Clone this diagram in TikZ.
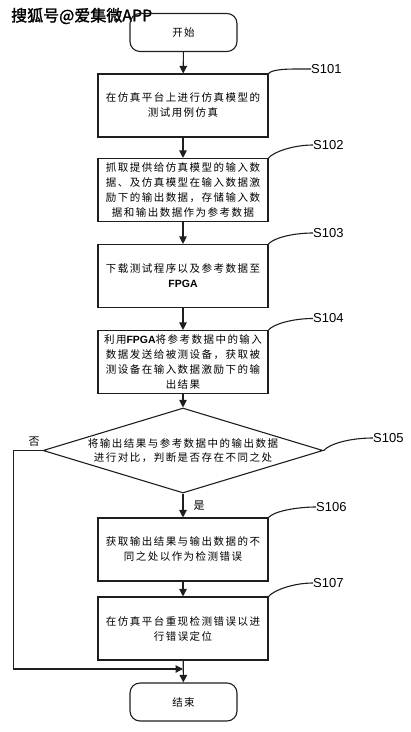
\documentclass[tikz,border=0pt]{standalone}
\usepackage{fontspec}
\setsansfont{Liberation Sans}
\newfontfamily\cjk[LetterSpace=14]{Noto Sans CJK SC}
\newfontfamily\markfont[FakeBold=1.5]{Noto Sans CJK SC}
\usetikzlibrary{arrows.meta, shapes.geometric}
\definecolor{linegray}{HTML}{1E1E1E}
\newcommand{\lat}[1]{{\addfontfeature{LetterSpace=0}\sffamily\bfseries #1}}
\tikzset{
  stepbox/.style={draw=linegray, line width=1.1pt, minimum width=170pt,
                  minimum height=63pt, align=center, inner sep=2pt,
                  font=\cjk\fontsize{10.5}{15}\selectfont},
  termbox/.style={draw=linegray, line width=1.1pt, rounded corners=10pt,
                  minimum width=107pt, minimum height=38pt,
                  font=\cjk\fontsize{10.5}{15}\selectfont},
  decide/.style={diamond, aspect=3.3, draw=linegray, line width=1.1pt,
                 minimum width=280pt, minimum height=85pt, inner sep=0pt,
                 align=center, font=\cjk\fontsize{10.5}{14}\selectfont},
  flow/.style={-{Triangle[length=7.5pt,width=7.5pt]}, line width=1.1pt, draw=linegray},
  lead/.style={line width=1.1pt, draw=linegray},
  tag/.style={anchor=west, inner sep=0pt, font=\sffamily\fontsize{13}{13}\selectfont},
  yesno/.style={inner sep=0pt, font=\cjk\fontsize{11}{11}\selectfont},
}
\begin{document}
\begin{tikzpicture}[x=1pt, y=-1pt]
  \useasboundingbox (0,0) rectangle (411,732);
  \node (mark) [anchor=west, inner sep=0pt, font=\markfont\fontsize{16}{16}\selectfont] at (11,16) {搜狐号@爱集微APP};
  % main column
  \node (start) [termbox] at (183.5,32.5) {开始};
  \node (s101) [stepbox] at (183,105.5) {在仿真平台上进行仿真模型的\\测试用例仿真};
  \node (s102) [stepbox] at (183,190) {抓取提供给仿真模型的输入数\\据、及仿真模型在输入数据激\\励下的输出数据，存储输入数\\据和输出数据作为参考数据};
  \node (s103) [stepbox] at (183,276) {下载测试程序以及参考数据至\\\lat{FPGA}};
  \node (s104) [stepbox] at (183,362) {利用\lat{FPGA}将参考数据中的输入\\数据发送给被测设备，获取被\\测设备在输入数据激励下的输\\出结果};
  \node (dec) [decide] at (183,450.5) {将输出结果与参考数据中的输出数据\\进行对比，判断是否存在不同之处};
  \node (s106) [stepbox] at (183,549.5) {获取输出结果与输出数据的不\\同之处以作为检测错误};
  \node (s107) [stepbox] at (183,628.5) {在仿真平台重现检测错误以进\\行错误定位};
  \node (end) [termbox] at (183.5,702) {结束};
  \coordinate (join) at (183,669);
  % step tags
  \node (t101) [tag] at (311,69) {S101};
  \node (t102) [tag] at (313,145) {S102};
  \node (t103) [tag] at (313,233) {S103};
  \node (t104) [tag] at (313,318.5) {S104};
  \node (t105) [tag] at (373,438) {S105};
  \node (t106) [tag] at (316,507) {S106};
  \node (t107) [tag] at (313,583) {S107};
  \draw[lead] (s101.north east) .. controls +(5,-5) and +(-20,0) .. (t101.west);
  \draw[lead] (s102.north east) .. controls +(5,-6) and +(-20,0) .. (t102.west);
  \draw[lead] (s103.north east) .. controls +(5,-6) and +(-20,0) .. (t103.west);
  \draw[lead] (s104.north east) .. controls +(5,-6) and +(-20,0) .. (t104.west);
  \draw[lead] (dec.east) .. controls +(8,-8) and +(-20,0) .. (t105.west);
  \draw[lead] (s106.north east) .. controls +(5,-6) and +(-20,0) .. (t106.west);
  \draw[lead] (s107.north east) .. controls +(5,-6) and +(-20,0) .. (t107.west);
  % connectors
  \draw[flow] (start) -- (s101);
  \draw[flow] (s101) -- (s102);
  \draw[flow] (s102) -- (s103);
  \draw[flow] (s103) -- (s104);
  \draw[flow] (s104) -- (dec);
  \draw[flow] (dec) -- node[yesno, right=10pt] {是} (s106);
  \draw[flow] (s106) -- (s107);
  \draw[flow] (s107) -- (end);
  \draw[flow] (dec.west) -- ++(-29,0) |- (join);
  \node (no) [yesno] at (34,442) {否};
\end{tikzpicture}
\end{document}
